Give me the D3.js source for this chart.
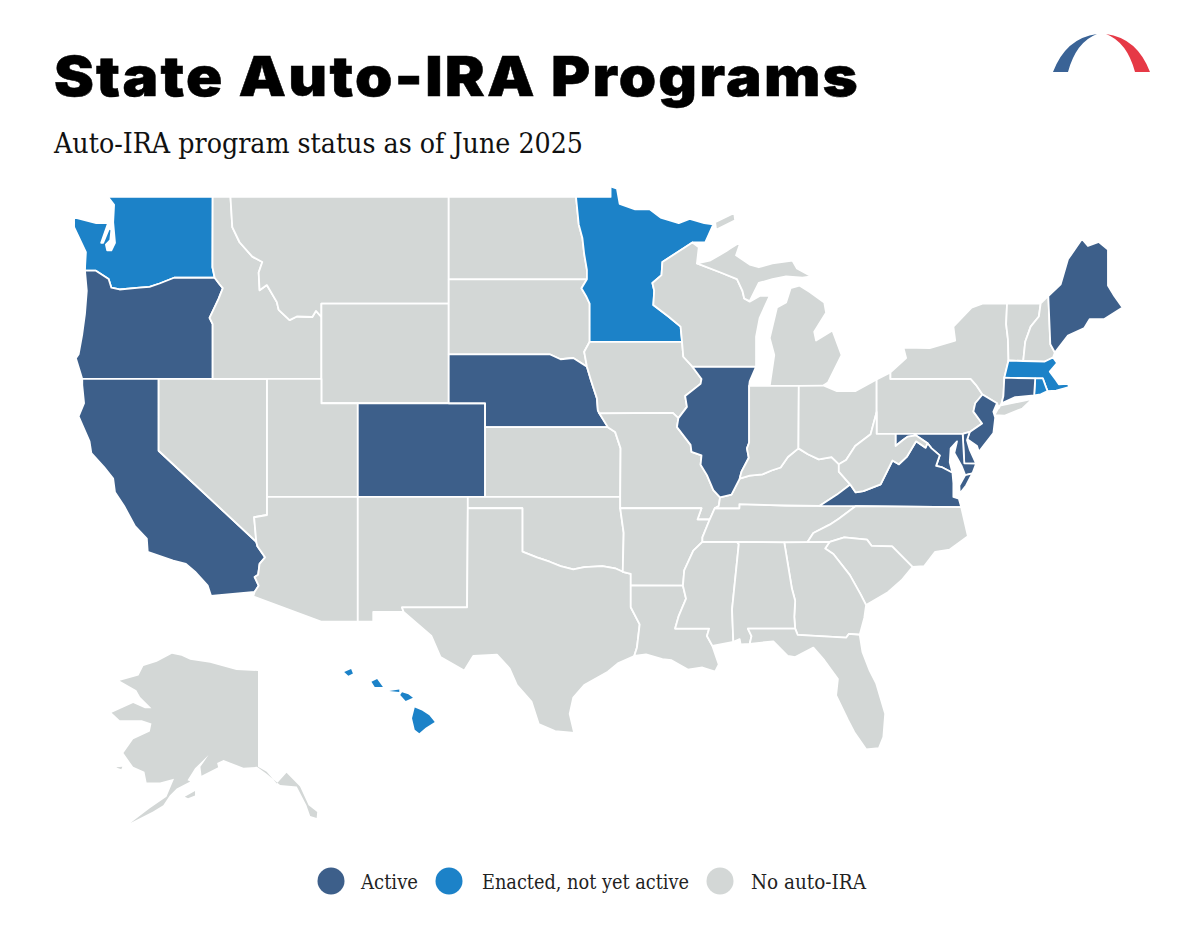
<!DOCTYPE html>
<html>
<head>
<meta charset="utf-8">
<script src="https://cdn.jsdelivr.net/npm/d3@7"></script>
<style>
  body { margin: 0; background: #fff; }
  svg { display: block; }
</style>
</head>
<body>
<svg id="chart" width="1200" height="930"></svg>
<script>
// program status lists
const activeStates = ["OR", "CA", "CO", "NE", "IL", "VA", "MD", "DE", "NJ", "CT", "ME"];
const enactedStates = ["WA", "MN", "HI", "MA", "RI"];
const legendLabels = ["Active", "Enacted, not yet active", "No auto-IRA"];

// state borders as [lon, lat], each shared border is kept once
const waTop = [[-117.03,49],[-122.78,49]];
const waCoast = [[-122.78,49],[-122.45,48.72],[-122.5,48.08],[-122.4,47.32],[-122.6,47.04],[-122.83,47.04],[-122.9,47.25],[-122.66,47.42],[-122.6,47.79],[-122.72,47.86],[-123.05,47.32],[-123.16,47.32],[-122.78,48.05],[-123.43,48.05],[-124.65,48.26],[-124.65,47.9],[-124.0,46.97],[-124.04,46.48],[-124.05,46.27]];
const waOr = [[-124.05,46.27],[-123.45,46.27],[-122.75,45.95],[-122.6,45.62],[-122.15,45.55],[-121.05,45.62],[-120.5,45.65],[-119.95,45.78],[-119.15,46],[-116.92,46]];
const waId = [[-116.92,46],[-117.04,46.4],[-117.03,49]];
const orCoast = [[-124.05,46.27],[-123.95,45.5],[-124.05,44.6],[-124.2,43.8],[-124.4,43.0],[-124.55,42.84],[-124.2,42]];
const orCa = [[-124.2,42],[-120,42]];
const orNv = [[-120,42],[-117.03,42]];
const orId = [[-117.03,42],[-117.03,44.2],[-117.2,44.45],[-116.9,44.9],[-116.7,45.2],[-116.47,45.6],[-116.65,45.75],[-116.92,46]];
const caCoast = [[-124.2,42],[-124.2,41.75],[-124.1,41.0],[-124.4,40.45],[-123.8,39.4],[-123.7,38.9],[-123.0,38.3],[-122.5,37.8],[-122.4,37.2],[-121.9,36.6],[-121.3,35.7],[-120.65,35.15],[-120.6,34.55],[-119.2,34.15],[-118.5,34.0],[-118.0,33.65],[-117.3,33.0],[-117.12,32.53]];
const caMx = [[-117.12,32.53],[-114.72,32.72]];
const caAz = [[-114.72,32.72],[-114.5,33.0],[-114.72,33.4],[-114.53,33.5],[-114.45,34.0],[-114.15,34.3],[-114.57,34.8],[-114.63,35.0]];
const caNv = [[-114.63,35.0],[-120,39],[-120,42]];
const nvAz = [[-114.63,35.0],[-114.75,36.1],[-114.04,36.2],[-114.04,37]];
const nvUt = [[-114.04,37],[-114.04,42]];
const nvId = [[-114.04,42],[-117.03,42]];
const idUt = [[-114.04,42],[-111.05,42]];
const idWy = [[-111.05,42],[-111.05,44.48]];
const idMt = [[-111.05,44.48],[-111.35,44.72],[-111.55,44.48],[-112.4,44.5],[-112.8,44.36],[-113.4,44.76],[-113.5,45.06],[-114.05,45.72],[-114.45,45.52],[-114.5,46.2],[-114.3,46.6],[-114.85,46.8],[-115.55,47.34],[-115.95,47.9],[-116.05,49]];
const idTop = [[-116.05,49],[-117.03,49]];
const mtTop = [[-116.05,49],[-104.05,49]];
const mtNd = [[-104.05,49],[-104.05,45.94]];
const mtSd = [[-104.05,45.94],[-104.05,45]];
const mtWy = [[-104.05,45],[-111.05,45],[-111.05,44.48]];
const wySd = [[-104.05,45],[-104.05,43]];
const wyNe = [[-104.05,43],[-104.05,41]];
const wyCo = [[-104.05,41],[-109.05,41]];
const wyUt = [[-109.05,41],[-111.05,41],[-111.05,42]];
const utCo = [[-109.05,41],[-109.05,37]];
const utAz = [[-109.05,37],[-114.04,37]];
const coNe = [[-104.05,41],[-102.05,41],[-102.05,40]];
const coKs = [[-102.05,40],[-102.05,37]];
const coOk = [[-102.05,37],[-103,37]];
const coNm = [[-103,37],[-109.05,37]];
const azNm = [[-109.05,37],[-109.05,31.33]];
const azMx = [[-109.05,31.33],[-111.07,31.33],[-114.8,32.5],[-114.72,32.72]];
const nmOk = [[-103,37],[-103,36.5]];
const nmTx = [[-103,36.5],[-103.04,32],[-106.62,32],[-106.53,31.78]];
const nmMx = [[-106.53,31.78],[-108.2,31.78],[-108.2,31.33],[-109.05,31.33]];
const ndTop = [[-104.05,49],[-97.05,49]];
const ndMn = [[-97.05,49],[-96.9,48],[-96.7,47.5],[-96.6,46.9],[-96.45,46.3],[-96.45,45.94]];
const ndSd = [[-96.45,45.94],[-104.05,45.94]];
const sdMn = [[-96.45,45.94],[-96.75,45.6],[-96.5,45.3],[-96.3,45],[-96.3,43.5]];
const sdIa = [[-96.3,43.5],[-96.6,43.1],[-96.45,42.5]];
const sdNe = [[-96.45,42.5],[-97.2,42.85],[-97.9,42.8],[-98.5,43],[-104.05,43]];
const neIa = [[-96.45,42.5],[-96.25,42.0],[-96.1,41.65],[-95.9,41.2],[-95.85,40.7],[-95.77,40.58]];
const neMo = [[-95.77,40.58],[-95.3,40]];
const neKs = [[-95.3,40],[-102.05,40]];
const ksMo = [[-95.3,40],[-94.9,39.8],[-94.6,39.1],[-94.62,37]];
const ksOk = [[-94.62,37],[-102.05,37]];
const okMo = [[-94.62,37],[-94.62,36.5]];
const okAr = [[-94.62,36.5],[-94.43,35.4],[-94.48,33.64]];
const okTx = [[-94.48,33.64],[-94.9,33.8],[-95.6,33.9],[-96.6,33.85],[-97.2,33.75],[-97.9,33.9],[-98.5,34.1],[-99.2,34.3],[-100,34.56],[-100,36.5],[-103,36.5]];
const txMx = [[-106.53,31.78],[-105.0,30.65],[-104.5,29.65],[-103.2,29.0],[-102.7,29.7],[-101.4,29.77],[-100.7,29.1],[-100.3,28.3],[-99.5,27.5],[-99.1,26.4],[-98.2,26.05],[-97.15,25.96]];
const txCoast = [[-97.15,25.96],[-97.4,26.9],[-97.2,27.7],[-96.6,28.3],[-95.3,28.95],[-94.75,29.35],[-93.85,29.7]];
const txLa = [[-93.85,29.7],[-93.7,30.1],[-93.55,31.2],[-94.04,32],[-94.04,33.02]];
const txAr = [[-94.04,33.02],[-94.04,33.55],[-94.48,33.64]];
const mnTop = [[-97.05,49],[-95.15,49],[-95.15,49.38],[-94.8,49.3],[-94.65,48.75],[-93.8,48.55],[-93.0,48.55],[-92.4,48.25],[-91.4,48.05],[-90.8,48.2],[-90,48.05],[-89.5,48]];
const mnLake = [[-89.5,48],[-89.95,47.33],[-90.65,47.33]];
const mnWi = [[-90.65,47.33],[-92.3,46.6],[-92.35,46.1],[-92.85,45.8],[-92.75,45.5],[-92.8,44.95],[-91.97,44.5],[-91.3,44.1],[-91.22,43.5]];
const mnIa = [[-91.22,43.5],[-96.3,43.5]];
const iaWi = [[-91.22,43.5],[-91.15,42.9],[-90.65,42.5]];
const iaIl = [[-90.65,42.5],[-90.15,42.0],[-90.2,41.8],[-91.05,41.3],[-90.95,40.85],[-91.42,40.38]];
const iaMo = [[-91.42,40.38],[-91.73,40.6],[-95.77,40.58]];
const moIl = [[-91.42,40.38],[-91.5,40.0],[-90.75,39.25],[-90.7,38.95],[-90.15,38.8],[-90.2,38.4],[-89.85,37.95],[-89.5,37.3],[-89.13,36.98]];
const moKy = [[-89.13,36.98],[-89.2,36.6],[-89.42,36.5]];
const moTn = [[-89.42,36.5],[-89.7,36]];
const moAr = [[-89.7,36],[-90.37,36],[-90.15,36.5],[-94.62,36.5]];
const arTn = [[-89.7,36],[-90.1,35.2],[-90.1,35]];
const arMs = [[-90.1,35],[-90.6,34.6],[-91.1,33.7],[-91.17,33]];
const arLa = [[-91.17,33],[-94.04,33.02]];
const laMs = [[-91.17,33],[-91.0,32.4],[-91.4,31.6],[-91.6,31.0],[-89.73,31.0],[-89.85,30.65],[-89.55,30.18]];
const laCoast = [[-89.55,30.18],[-89.4,29.8],[-89.2,29.3],[-89.4,28.95],[-90.1,29.15],[-90.9,29.05],[-91.8,29.5],[-92.3,29.55],[-93.2,29.78],[-93.85,29.7]];
const msTn = [[-90.1,35],[-88.2,35]];
const msAl = [[-88.2,35],[-88.1,34.9],[-88.47,31.9],[-88.4,30.37]];
const msCoast = [[-88.4,30.37],[-89.55,30.18]];
const tnAl = [[-88.2,35],[-85.6,34.98]];
const tnGa = [[-85.6,34.98],[-84.32,34.99]];
const tnNc = [[-84.32,34.99],[-84.0,35.4],[-83.1,35.77],[-82.6,36.03],[-81.68,36.59]];
const tnVa = [[-81.68,36.59],[-83.67,36.6]];
const tnKy = [[-83.67,36.6],[-85.5,36.62],[-88.07,36.68],[-88.07,36.5],[-89.42,36.5]];
const ilKy = [[-89.13,36.98],[-88.5,37.1],[-88.05,37.8]];
const inKy = [[-88.05,37.8],[-87.5,37.93],[-86.8,37.98],[-86.3,38.15],[-85.8,38.28],[-85.4,38.73],[-84.82,39.1]];
const ohKy = [[-84.82,39.1],[-84.3,38.85],[-83.7,38.63],[-83.0,38.73],[-82.6,38.42]];
const kyWv = [[-82.6,38.42],[-82.6,38.1],[-81.97,37.54]];
const kyVa = [[-81.97,37.54],[-82.7,37.1],[-83.67,36.6]];
const ilWi = [[-90.65,42.5],[-87.15,42.5]];
const ilLake = [[-87.15,42.5],[-87.5,41.9],[-87.53,41.72]];
const ilIn = [[-87.53,41.72],[-87.53,39.35],[-87.65,39.1],[-87.55,38.7],[-87.95,38.1],[-88.05,37.8]];
const wiLake = [[-90.65,47.33],[-90.3,47.15],[-90.4,46.55]];
const wiMi = [[-90.4,46.55],[-89.1,46.2],[-88.2,45.95],[-87.9,45.5],[-87.8,45.2]];
const wiShore = [[-87.8,45.2],[-87.5,45.08],[-86.95,45.3],[-86.4,45.3],[-86.95,44.45],[-87.15,43.7],[-87.15,42.6],[-87.15,42.5]];
const miUpper = [[-90.4,46.55],[-89.7,46.65],[-88.8,47.0],[-88.6,47.1],[-88.0,47.35],[-88.25,46.85],[-87.5,46.5],[-87,46.4],[-86.25,46.55],[-85.15,46.65],[-84.9,46.35],[-84.1,46.05],[-84.6,46],[-85.5,46.05],[-86.25,45.95],[-87,45.8],[-87.5,45.1],[-87.8,45.2]];
const miIn = [[-86.4,41.72],[-84.8,41.72]];
const miOh = [[-84.8,41.72],[-83.45,41.73]];
const miShore = [[-83.45,41.73],[-83.2,41.85],[-82.45,42.97],[-82.95,43.95],[-83.85,43.55],[-83.95,43.9],[-83.3,44.65],[-83.4,45.05],[-84.2,45.45],[-84.77,45.7],[-85.25,45.6],[-85.5,45.05],[-86,44.85],[-86.4,43.65],[-86.15,42.97],[-86.4,41.72]];
const isleRoyale = [[-89.35,47.8],[-88.3,48.15],[-88.35,48.42],[-89.4,48.08]];
const inLake = [[-87.53,41.72],[-86.4,41.72]];
const inOh = [[-84.8,41.72],[-84.82,39.1]];
const ohLake = [[-83.45,41.73],[-82.7,41.5],[-81.7,41.5],[-80.52,41.98]];
const ohPa = [[-80.52,41.98],[-80.52,40.64]];
const ohWv = [[-80.52,40.64],[-80.85,39.7],[-81.7,39.2],[-82.2,38.6],[-82.6,38.42]];
const paLake = [[-80.52,41.98],[-79.76,42.27]];
const paNy = [[-79.76,42.27],[-79.76,42],[-75.35,42]];
const paNyRiver = [[-75.35,42],[-75.05,41.75],[-74.7,41.36]];
const paNj = [[-74.7,41.36],[-75.1,41.0],[-75.2,40.65],[-74.72,40.15],[-75.4,39.8]];
const paDe = [[-75.4,39.8],[-75.79,39.72]];
const paMd = [[-75.79,39.72],[-79.48,39.72]];
const paWv = [[-79.48,39.72],[-80.52,39.72],[-80.52,40.64]];
const nyLakes = [[-79.76,42.27],[-78.9,42.85],[-79.05,43.27],[-77.6,43.25],[-76.2,43.55],[-76.3,44.1],[-75.3,44.85],[-74.7,45],[-73.35,45]];
const nyVt = [[-73.35,45],[-73.4,44.2],[-73.3,43.6],[-73.27,42.75]];
const nyMa = [[-73.27,42.75],[-73.5,42.05]];
const nyCt = [[-73.5,42.05],[-73.55,41.3],[-73.65,41]];
const nySound = [[-73.65,41],[-73.8,40.8],[-73.9,41]];
const nyNj = [[-73.9,41],[-74.7,41.36]];
const longIsland = [[-74.05,40.5],[-73.75,40.9],[-72.6,41.08],[-71.95,41.18],[-72.5,40.78],[-73.5,40.48]];
const njCoast = [[-73.9,41],[-74.1,40.65],[-74,40.4],[-74.1,39.75],[-74.9,38.95],[-75,39.2],[-75.55,39.5],[-75.4,39.8]];
const deCoast = [[-75.4,39.8],[-75.55,39.45],[-75.4,39.05],[-75.05,38.45]];
const deMd = [[-75.05,38.45],[-75.7,38.46],[-75.79,39.72]];
const mdCoast = [[-75.05,38.45],[-75.25,38.03],[-75.65,37.95],[-75.85,38.35],[-76.25,38.9],[-76.1,39.4],[-76.45,39.1],[-76.5,38.5],[-76.35,38.05]];
const mdVa = [[-76.35,38.05],[-76.95,38.3],[-77.25,38.35],[-77.05,38.8],[-77.5,39.1],[-77.72,39.32]];
const mdWv = [[-77.72,39.32],[-78.35,39.65],[-78.8,39.6],[-79.05,39.47],[-79.48,39.2],[-79.48,39.72]];
const vaWv = [[-77.72,39.32],[-77.83,39.13],[-78.35,39.4],[-78.85,38.75],[-79.3,38.42],[-79.65,38.58],[-80.3,37.55],[-81.25,37.25],[-81.68,37.2],[-81.97,37.54]];
const vaNc = [[-81.68,36.59],[-75.87,36.55]];
const vaCoast = [[-75.87,36.55],[-76,36.92],[-76.3,37],[-76.3,37.6],[-76.35,38.05]];
const vaShore = [[-75.65,37.95],[-75.25,38.03],[-75.6,37.5],[-75.95,37.15],[-75.97,37.5]];
const ncCoast = [[-75.87,36.55],[-75.5,35.25],[-76.5,34.65],[-77.3,34.55],[-77.9,33.9],[-78.55,33.86]];
const ncSc = [[-78.55,33.86],[-79.67,34.8],[-80.8,34.82],[-81.05,35.1],[-82.3,35.2],[-83.1,35]];
const ncGa = [[-83.1,35],[-84.32,34.99]];
const scGa = [[-83.1,35],[-83.35,34.7],[-82.9,34.45],[-82.0,33.5],[-81.4,32.6],[-81.1,32.1]];
const scCoast = [[-81.1,32.1],[-79.9,32.7],[-79.15,33.25],[-78.55,33.86]];
const gaCoast = [[-81.1,32.1],[-81.2,31.5],[-81.45,30.71]];
const gaFl = [[-81.45,30.71],[-82.05,30.75],[-82.2,30.57],[-84.86,30.7],[-85,31]];
const gaAl = [[-85,31],[-85.05,31.55],[-85.0,32.3],[-85.18,32.87],[-85.6,34.98]];
const alFl = [[-85,31],[-87.6,31],[-87.4,30.65],[-87.5,30.28]];
const alCoast = [[-87.5,30.28],[-88,30.25],[-88.05,30.5],[-88.4,30.37]];
const flCoast = [[-81.45,30.71],[-81.3,29.9],[-80.9,29.0],[-80.55,28.4],[-80.05,26.9],[-80.15,25.75],[-80.4,25.2],[-81.1,25.15],[-81.75,26.0],[-82.1,26.6],[-82.75,27.8],[-82.65,28.6],[-83.4,29.5],[-84.0,30.1],[-85.0,29.65],[-85.4,29.7],[-86.2,30.4],[-87.5,30.28]];
const vtTop = [[-73.35,45],[-71.5,45.01]];
const vtNh = [[-71.5,45.01],[-71.6,44.5],[-72.05,44.1],[-72.35,43.5],[-72.46,42.73]];
const vtMa = [[-72.46,42.73],[-73.27,42.75]];
const nhTop = [[-71.5,45.01],[-71.08,45.3]];
const nhMe = [[-71.08,45.3],[-70.97,43.4],[-70.72,43.07]];
const nhCoast = [[-70.72,43.07],[-70.82,42.87]];
const nhMa = [[-70.82,42.87],[-71.3,42.7],[-72.46,42.73]];
const meLine = [[-71.08,45.3],[-70.4,45.75],[-70.0,46.7],[-69.23,47.46],[-68.9,47.2],[-68.3,47.35],[-67.8,47.07],[-67.8,45.7],[-67.45,45.3],[-67.0,44.85],[-68.0,44.4],[-68.8,44.4],[-69.1,44.05],[-70.0,43.75],[-70.72,43.07]];
const maCoast = [[-70.82,42.87],[-70.6,42.65],[-71.0,42.3],[-70.65,41.95],[-70.5,41.78],[-70.0,41.8],[-70.05,42.05],[-69.95,41.67],[-70.65,41.52],[-71.12,41.5]];
const maRi = [[-71.12,41.5],[-71.2,41.65],[-71.38,42.02],[-71.8,42.02]];
const maCt = [[-71.8,42.02],[-73.5,42.05]];
const riCoast = [[-71.12,41.5],[-71.5,41.37],[-71.86,41.32]];
const riCt = [[-71.86,41.32],[-71.8,42.02]];
const ctCoast = [[-71.86,41.32],[-72.9,41.25],[-73.65,41]];

// Hawaii
const hawaiiBig = [[-155.9,20.25],[-155.5,20.1],[-155.1,19.85],[-154.8,19.5],[-155.3,19.2],[-155.65,18.92],[-155.9,19.1],[-156.05,19.7]];
const maui = [[-156.7,20.9],[-156.6,21.03],[-156.25,20.93],[-156.0,20.75],[-156.4,20.58]];
const molokai = [[-157.3,21.1],[-156.75,21.17],[-156.75,21.05]];
const oahu = [[-158.28,21.57],[-157.97,21.71],[-157.65,21.3],[-158.1,21.3]];
const kauai = [[-159.78,22.07],[-159.4,22.23],[-159.3,22.0],[-159.55,21.88]];

// Alaska
const alaskaMain = [[-141,69.65],[-141,59.9],[-139.4,59.4],[-137.5,58.2],[-135.7,59.3],[-133.2,57.9],[-131.6,56.0],[-130.0,55.3],[-130.1,54.7],[-131.3,54.9],[-132.0,56.0],[-133.8,57.9],[-136.9,58.05],[-139.4,59.2],[-141.2,59.9],[-143.7,59.8],[-147.4,60.6],[-148.6,60.3],[-148.4,59.85],[-151.5,59.0],[-151.7,59.9],[-150.2,61.1],[-152.7,59.75],[-154.1,58.55],[-153.6,58.4],[-156.1,57.7],[-157.4,57.0],[-158.6,56.0],[-160.5,55.35],[-164.7,54.2],[-161.1,55.7],[-158.0,56.85],[-156.6,58.7],[-159.2,58.3],[-161.7,58.3],[-162.1,59.4],[-164.2,59.9],[-166.0,61.3],[-164.2,62.7],[-161.1,63.5],[-160.8,64.3],[-162.6,64.65],[-166.7,64.65],[-168.2,65.4],[-164.2,66.4],[-162.0,65.85],[-160.8,65.85],[-162.9,67.0],[-163.6,67.7],[-166.7,68.65],[-163.2,69.2],[-162.3,70.15],[-159.8,70.6],[-157.0,71.4],[-155.2,71.2],[-153.6,70.8],[-149.9,70.5],[-145.0,69.75]];
const kodiak = [[-154.6,56.85],[-152.7,57.45],[-152.7,57.0],[-154,56.7]];
const nunivak = [[-167.3,59.85],[-166.2,59.9],[-166.4,59.65],[-167.2,59.8]];

const r = a => a.slice().reverse();
const ring = (...arcs) => arcs.flat();

// each state is a list of rings put together from the borders above
const stateRings = {
  WA: [ring(waTop, waCoast, waOr, waId)],
  OR: [ring(orCoast, orCa, orNv, orId, r(waOr))],
  CA: [ring(caCoast, caMx, caAz, caNv, r(orCa))],
  NV: [ring(r(caNv), nvAz, nvUt, nvId, r(orNv))],
  ID: [ring(r(nvId), idUt, idWy, idMt, idTop, r(waId), r(orId))],
  MT: [ring(mtTop, mtNd, mtSd, mtWy, idMt)],
  WY: [ring(r(mtWy), wySd, wyNe, wyCo, wyUt, idWy)],
  UT: [ring(idUt, r(wyUt), utCo, utAz, nvUt)],
  CO: [ring(r(wyCo), coNe, coKs, coOk, coNm, r(utCo))],
  AZ: [ring(r(utAz), azNm, azMx, caAz, nvAz)],
  NM: [ring(r(coNm), nmOk, nmTx, nmMx, r(azNm))],
  ND: [ring(ndTop, ndMn, ndSd, r(mtNd))],
  SD: [ring(r(ndSd), sdMn, sdIa, sdNe, r(wySd), r(mtSd))],
  NE: [ring(r(sdNe), neIa, neMo, neKs, r(coNe), r(wyNe))],
  KS: [ring(r(neKs), ksMo, ksOk, r(coKs))],
  OK: [ring(r(ksOk), okMo, okAr, okTx, r(nmOk), r(coOk))],
  TX: [ring(nmTx, txMx, txCoast, txLa, txAr, okTx)],
  MN: [ring(mnTop, mnLake, mnWi, mnIa, r(sdMn), r(ndMn))],
  IA: [ring(r(mnIa), iaWi, iaIl, iaMo, r(neIa), r(sdIa))],
  MO: [ring(r(iaMo), moIl, moKy, moTn, moAr, r(okMo), r(ksMo), r(neMo))],
  AR: [ring(r(moAr), arTn, arMs, arLa, txAr, r(okAr))],
  LA: [ring(r(arLa), laMs, laCoast, txLa)],
  MS: [ring(msTn, msAl, msCoast, r(laMs), r(arMs))],
  TN: [ring(msTn, tnAl, tnGa, tnNc, tnVa, tnKy, moTn, arTn)],
  KY: [ring(ilKy, inKy, ohKy, kyWv, kyVa, tnKy, r(moKy))],
  IL: [ring(ilWi, ilLake, ilIn, r(ilKy), r(moIl), r(iaIl))],
  WI: [ring(wiLake, wiMi, wiShore, r(ilWi), r(iaWi), r(mnWi))],
  MI: [ring(miUpper, r(wiMi)), ring(miIn, miOh, miShore), isleRoyale],
  IN: [ring(inLake, miIn, inOh, r(inKy), r(ilIn))],
  OH: [ring(miOh, ohLake, ohPa, ohWv, r(ohKy), r(inOh))],
  PA: [ring(paLake, paNy, paNyRiver, paNj, paDe, paMd, paWv, r(ohPa))],
  NY: [ring(nyLakes, nyVt, nyMa, nyCt, nySound, nyNj, r(paNyRiver), r(paNy)), longIsland],
  NJ: [ring(r(nyNj), njCoast, r(paNj))],
  DE: [ring(deCoast, deMd, paDe)],
  MD: [ring(r(paMd), r(deMd), mdCoast, mdVa, mdWv)],
  VA: [ring(r(mdVa), r(vaCoast), r(vaNc), tnVa, r(kyVa), r(vaWv)), vaShore],
  WV: [ring(paWv, ohWv, kyWv, r(vaWv), mdWv)],
  NC: [ring(vaNc, ncCoast, ncSc, ncGa, tnNc)],
  SC: [ring(r(ncSc), r(scCoast), r(scGa))],
  GA: [ring(tnGa, r(ncGa), scGa, gaCoast, gaFl, gaAl)],
  AL: [ring(tnAl, r(gaAl), alFl, alCoast, r(msAl))],
  FL: [ring(flCoast, r(alFl), r(gaFl))],
  VT: [ring(vtTop, vtNh, vtMa, r(nyVt))],
  NH: [ring(nhTop, nhMe, nhCoast, nhMa, r(vtNh))],
  ME: [ring(meLine, r(nhMe))],
  MA: [ring(r(nhMa), maCoast, maRi, maCt, r(nyMa), r(vtMa))],
  RI: [ring(r(maRi), riCoast, riCt)],
  CT: [ring(r(maCt), r(riCt), ctCoast, r(nyCt))]
};
const hawaiiRings = [hawaiiBig, maui, molokai, oahu, kauai];
const alaskaRings = [alaskaMain, kodiak, nunivak];

const colors = { active: "#3d5f8a", enacted: "#1c82c8", none: "#d3d7d6" };
const statusColor = id => activeStates.includes(id) ? colors.active
  : enactedStates.includes(id) ? colors.enacted : colors.none;

const svg = d3.select("#chart");

// lower 48 and Hawaii are mercator at the same scale, Alaska has its own scales
const mainland = d3.geoMercator().scale(1042).translate([2341, 1222.1]);
const hawaiiProj = d3.geoMercator().scale(1042).translate([3250, 1083.7]);
const akX = d3.scaleLinear().domain([-141, -130]).range([258, 317.2]);
const akY = d3.scaleLinear().domain([69.65, 54.7]).range([671, 818]);

const line = d3.line().curve(d3.curveLinearClosed);
const projectedPath = (rings, project) => rings.map(rg => line(rg.map(project))).join("");

const map = svg.append("g");

map.selectAll("path.state")
  .data(Object.keys(stateRings))
  .join("path")
  .attr("class", "state")
  .attr("d", id => projectedPath(stateRings[id], mainland))
  .attr("fill", statusColor)
  .attr("stroke", "#fff")
  .attr("stroke-width", 1.8)
  .attr("stroke-linejoin", "round");

map.append("path")
  .attr("d", projectedPath(hawaiiRings, hawaiiProj))
  .attr("fill", statusColor("HI"));

map.append("path")
  .attr("d", projectedPath(alaskaRings, p => [akX(p[0]), akY(p[1])]))
  .attr("fill", statusColor("AK"));

// title and subtitle
svg.append("text")
  .attr("x", 54).attr("y", 96)
  .attr("textLength", 806).attr("lengthAdjust", "spacingAndGlyphs")
  .style("font-family", "Inter, sans-serif")
  .style("font-weight", 900)
  .style("font-size", "55px")
  .style("letter-spacing", "2px")
  .attr("stroke", "#000").attr("stroke-width", 0.5)
  .text("State Auto-IRA Programs");

svg.append("text")
  .attr("x", 54).attr("y", 153)
  .attr("textLength", 529).attr("lengthAdjust", "spacingAndGlyphs")
  .style("font-family", "'DejaVu Serif Condensed', 'DejaVu Serif', serif")
  .style("font-stretch", "condensed")
  .style("font-size", "27px")
  .attr("fill", "#111")
  .text("Auto-IRA program status as of June 2025");

// logo
const logoBlue = d3.path();
logoBlue.moveTo(1053, 72);
logoBlue.quadraticCurveTo(1066, 38, 1097, 34);
logoBlue.quadraticCurveTo(1076, 42, 1068, 72);
logoBlue.closePath();
const logoRed = d3.path();
logoRed.moveTo(1150, 72);
logoRed.quadraticCurveTo(1137, 38, 1106, 34);
logoRed.quadraticCurveTo(1127, 42, 1135, 72);
logoRed.closePath();
svg.append("path").attr("d", logoBlue.toString()).attr("fill", "#3a6396");
svg.append("path").attr("d", logoRed.toString()).attr("fill", "#e63946");

// legend
const legendX = [331, 449, 720];
const legendTextX = [361, 482, 751];
const legendTextW = [57, 207, 115];
const legendColors = [colors.active, colors.enacted, colors.none];

const legend = svg.append("g");
legend.selectAll("circle")
  .data(legendLabels)
  .join("circle")
  .attr("cx", (d, i) => legendX[i])
  .attr("cy", 881)
  .attr("r", 13.5)
  .attr("fill", (d, i) => legendColors[i]);

legend.selectAll("text")
  .data(legendLabels)
  .join("text")
  .attr("x", (d, i) => legendTextX[i])
  .attr("y", 889)
  .attr("textLength", (d, i) => legendTextW[i])
  .attr("lengthAdjust", "spacingAndGlyphs")
  .style("font-family", "'DejaVu Serif Condensed', 'DejaVu Serif', serif")
  .style("font-stretch", "condensed")
  .style("font-size", "20px")
  .attr("fill", "#222")
  .text(d => d);
</script>
</body>
</html>
